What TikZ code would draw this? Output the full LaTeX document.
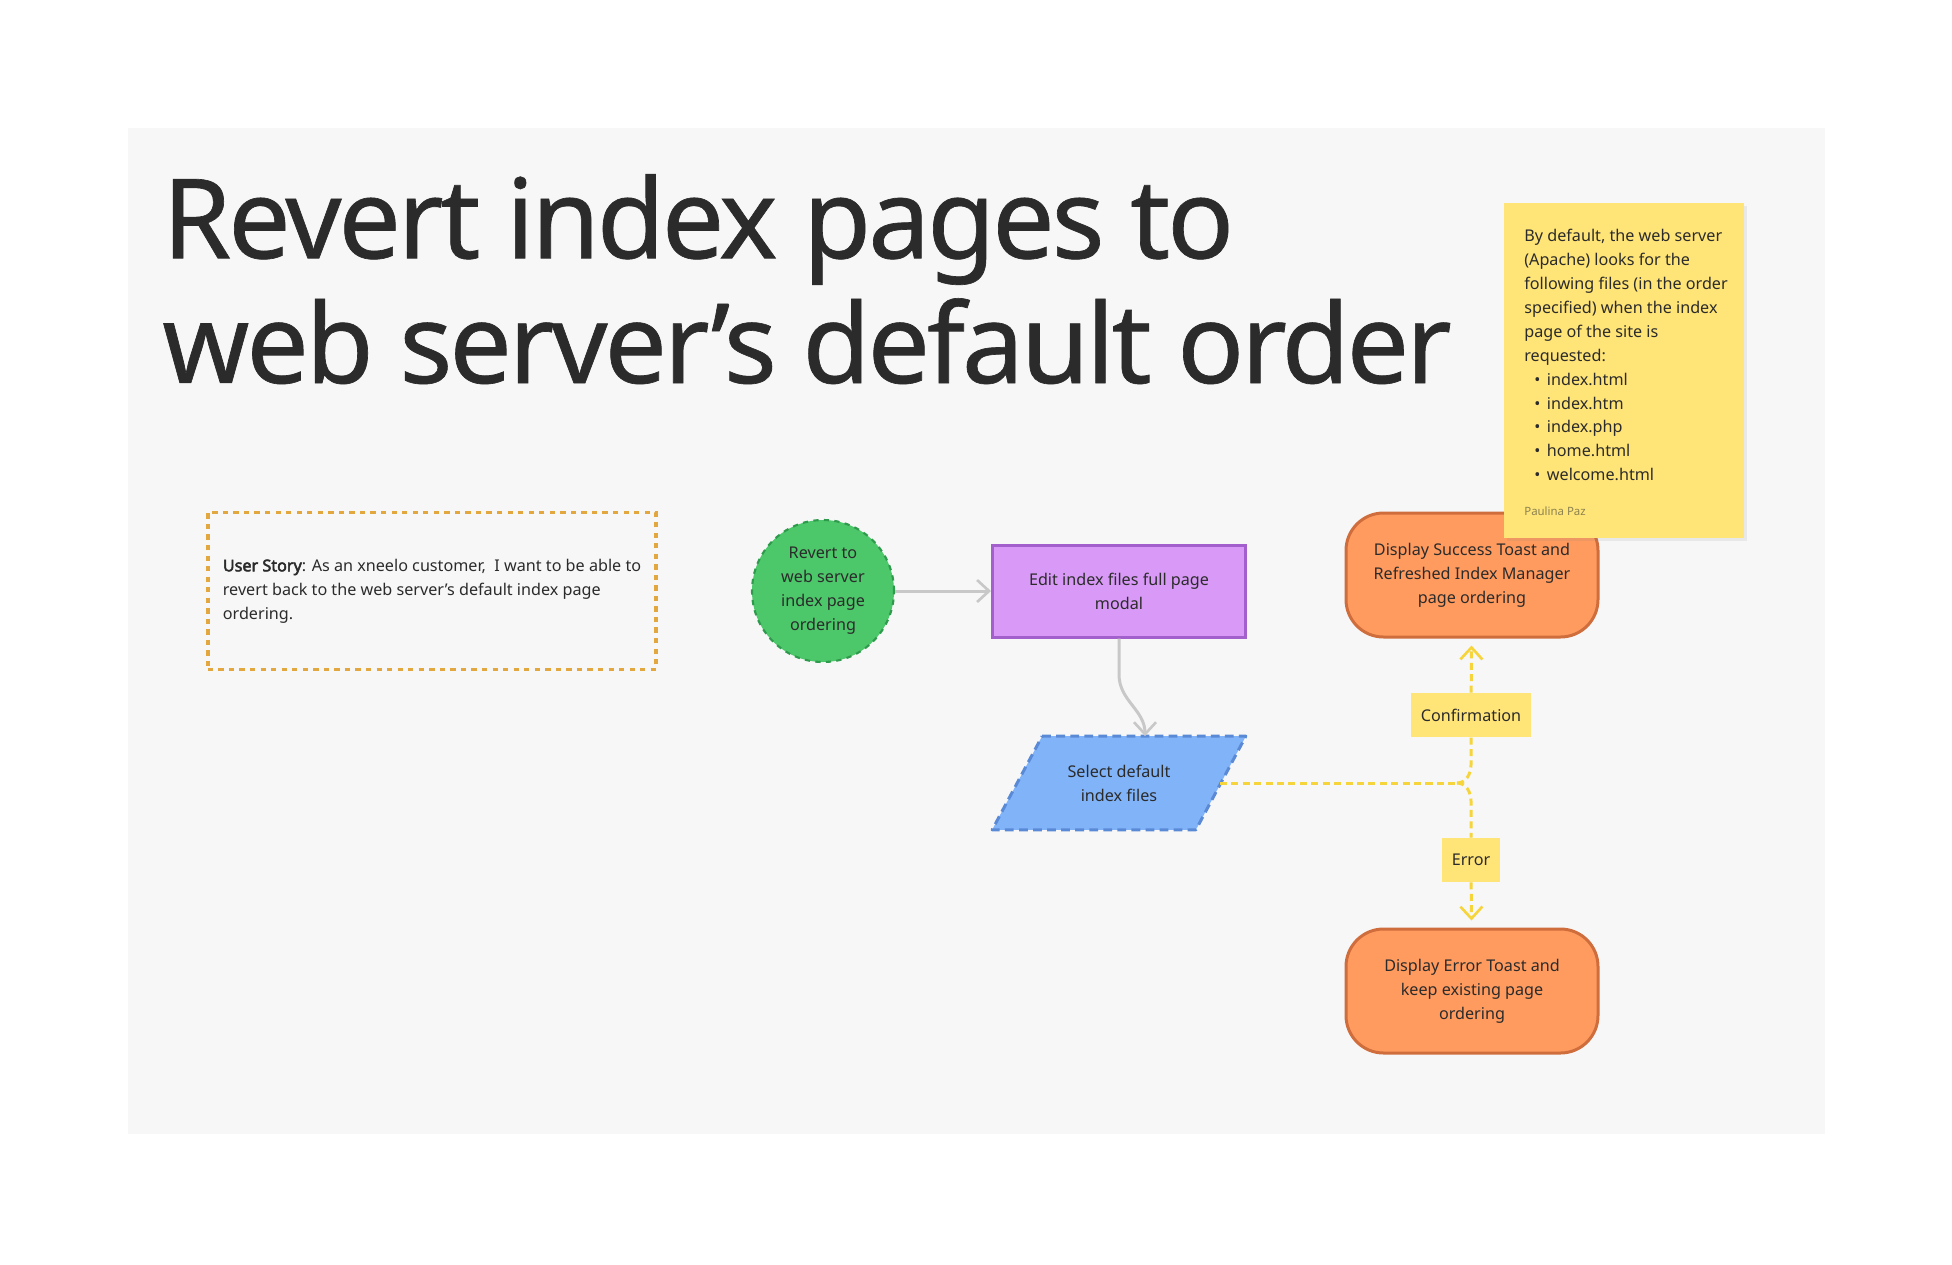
\documentclass[tikz,border=0pt]{standalone}
\usepackage{fontspec}
\setmainfont{Noto Sans}
\newfontfamily\headfont{Noto Sans}[LetterSpace=-2.8, FakeBold=0.6]
\newfontfamily\strongfont{Noto Sans}[FakeBold=3]
\usetikzlibrary{arrows.meta, positioning, shapes.geometric, shadows, calc}
\definecolor{cpanel}{HTML}{F7F7F7}
\definecolor{cink}{HTML}{2B2B2B}
\definecolor{cgreen}{HTML}{4CC76A}
\definecolor{cgreenline}{HTML}{2E9A4C}
\definecolor{cpurple}{HTML}{D89AF6}
\definecolor{cpurpleline}{HTML}{A35FCB}
\definecolor{cblue}{HTML}{80B3F8}
\definecolor{cblueline}{HTML}{5A8AD6}
\definecolor{corange}{HTML}{FF9B5F}
\definecolor{corangeline}{HTML}{CF6E3C}
\definecolor{cyellow}{HTML}{FFE477}
\definecolor{cyellowline}{HTML}{F6D43C}
\definecolor{cgold}{HTML}{E3A740}
\definecolor{cgrey}{HTML}{C8C8C8}
\definecolor{cnote}{HTML}{8B8250}
\tikzset{
  every picture/.style={font=\fontsize{9.2}{13.6}\selectfont, text=cink},
  startnode/.style={circle, draw=cgreenline, fill=cgreen, dashed, line width=1.2pt, minimum size=2.84cm, inner sep=0pt, align=center},
  process/.style={draw=cpurpleline, fill=cpurple, line width=1.7pt, minimum width=5.06cm, minimum height=1.84cm, align=center},
  iobox/.style={minimum width=5.06cm, minimum height=1.86cm, align=center},
  ioshape/.style={draw=cblueline, fill=cblue, dash pattern=on 5pt off 3pt, line width=1.7pt, line join=round},
  terminal/.style={draw=corangeline, fill=corange, rounded corners=0.75cm, line width=1.7pt, minimum width=5.04cm, minimum height=2.48cm, align=center},
  story/.style={draw=cgold, dash pattern=on 3pt off 3pt, line width=2.2pt, minimum width=8.92cm, minimum height=3.14cm, inner xsep=0.3cm, align=left},
  tag/.style={fill=cyellow, inner xsep=0.2cm, minimum height=0.88cm},
  arrow/.style={-{Straight Barb[length=2.4mm, width=4.4mm, line width=1.5pt]}, draw=cgrey, line width=1.7pt},
  flow/.style={draw=cyellowline, dash pattern=on 4pt off 2.5pt, line width=1.7pt},
  flowarrow/.style={flow, -{Straight Barb[length=2.4mm, width=4.4mm, line width=1.5pt]}, shorten >=0.14cm},
  title/.style={font=\headfont\fontsize{63}{71}\selectfont, text=cink, inner sep=0pt, align=left},
  sticky/.style={fill=cyellow, minimum width=4.8cm, minimum height=6.7cm, drop shadow={shadow xshift=1.5pt, shadow yshift=-1.5pt, opacity=0.12}},
  note/.style={inner sep=0pt, align=left},
}

\begin{document}
\begin{tikzpicture}[x=0.2mm, y=0.2mm]
  \useasboundingbox (0,0) rectangle (1952,-1264);
  \fill[white] (0,0) rectangle (1952,-1264);
  \fill[cpanel] (128,-128) rectangle (1825,-1134);

  \node[title, anchor=base west] (heading) at (162,-383) {Revert index pages to\\web server’s default order};

  \node[story] (userstory) at (432,-591) {{\strongfont User Story}: As an xneelo customer,\ \ I want to be able to\\revert back to the web server’s default index page\\ordering.};

  \node[startnode] (revert) at (823,-591) {Revert to\\web server\\index page\\ordering};
  \node[process] (edit) at (1119,-591) {Edit index files full page\\modal};
  \node[iobox] (select) at (1119,-783) {};
  \draw[ioshape] ([xshift=1cm]select.north west) -- (select.north east) -- ([xshift=-1cm]select.south east) -- (select.south west) -- cycle;
  \node[align=center] (selecttext) at (select) {Select default\\index files};
  \node[terminal] (success) at (1472,-575) {Display Success Toast and\\Refreshed Index Manager\\page ordering};
  \node[terminal] (failure) at (1472,-991) {Display Error Toast and\\keep existing page\\ordering};
  \node[tag] (confirm) at (1471,-715) {Confirmation};
  \node[tag] (error) at (1471,-860) {Error};

  \draw[arrow] (revert) -- (edit);
  \draw[arrow] (edit.south) -- ++(0,-36) to[out=-90, in=90] ([xshift=0.52cm]select.north);

  \coordinate (selectright) at ([xshift=-0.52cm]select.east);
  \coordinate (fork) at (1457,-783);
  \draw[flow] (selectright) -- (fork);
  \draw[flow] (fork) to[out=0, in=-90] ++(14,18) -- (confirm);
  \draw[flow] (fork) to[out=0, in=90] ++(14,-18) -- (error);
  \draw[flowarrow] (confirm) -- (success);
  \draw[flowarrow] (error) -- (failure);

  \node[sticky, anchor=north west] (memo) at (1504,-203) {};
  \node[note, anchor=north west] (memotext) at (1524,-229) {By default, the web server\\(Apache) looks for the\\following files (in the order\\specified) when the index\\page of the site is\\requested:\\
    \hspace*{0.2cm}\textbullet\hspace{0.13cm}index.html\\
    \hspace*{0.2cm}\textbullet\hspace{0.13cm}index.htm\\
    \hspace*{0.2cm}\textbullet\hspace{0.13cm}index.php\\
    \hspace*{0.2cm}\textbullet\hspace{0.13cm}home.html\\
    \hspace*{0.2cm}\textbullet\hspace{0.13cm}welcome.html};
  \node[note, anchor=west, font=\fontsize{6.5}{8}\selectfont, text=cnote] (author) at (1524,-511) {Paulina Paz};
\end{tikzpicture}
\end{document}
